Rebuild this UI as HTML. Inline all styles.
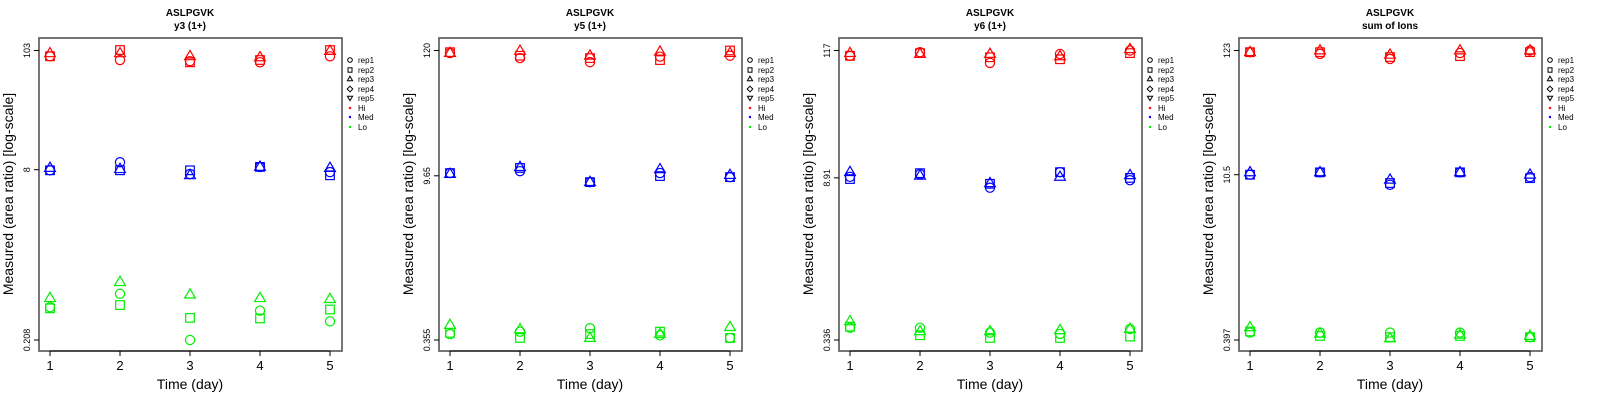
<!DOCTYPE html>
<html><head><meta charset="utf-8">
<style>
html,body{margin:0;padding:0;background:#fff;}
svg{display:block;font-family:"Liberation Sans",sans-serif;}
</style></head>
<body>
<svg id="chart" width="1600" height="400" viewBox="0 0 1600 400" xmlns="http://www.w3.org/2000/svg"></svg>
<script>
// ---- data ----
const days = [1, 2, 3, 4, 5];
const panelTitles = ["y3 (1+)", "y5 (1+)", "y6 (1+)", "sum of Ions"];
const peptide = "ASLPGVK";
const tickLabels = [["103", "8", "0.208"], ["120", "9.65", "0.355"], ["117", "8.91", "0.336"], ["123", "10.5", "0.397"]];
const tickValues = [[103, 8, 0.208], [120, 9.65, 0.355], [117, 8.91, 0.336], [123, 10.5, 0.397]];
const levels = ["Hi", "Med", "Lo"];
const reps = ["rep1", "rep2", "rep3"];
// values[panel][level][rep][day]
const p1Hi  = [[91, 84, 82, 80, 91], [91, 104, 80, 84, 104], [97, 97, 91, 89, 102]];
const p1Med = [[7.9, 9.4, 7.3, 8.5, 7.6], [7.9, 7.9, 7.9, 8.5, 7.1], [8.3, 8.1, 7.1, 8.5, 8.3]];
const p1Lo  = [[0.42, 0.56, 0.208, 0.39, 0.31], [0.41, 0.44, 0.334, 0.33, 0.40], [0.51, 0.72, 0.55, 0.51, 0.50]];
const p2Hi  = [[114, 103, 95, 106, 108], [116, 108, 103, 99, 120], [114, 119, 108, 117, 114]];
const p2Med = [[10.2, 10.6, 8.5, 10.2, 9.4], [10.2, 11.3, 8.5, 9.6, 9.4], [10.0, 11.5, 8.5, 11.0, 9.8]];
const p2Lo  = [[0.40, 0.42, 0.45, 0.39, 0.37], [0.41, 0.37, 0.40, 0.42, 0.37], [0.48, 0.44, 0.37, 0.40, 0.46]];
const p3Hi  = [[105, 113, 91, 109, 117], [105, 111, 102, 98, 111], [111, 109, 109, 104, 120]];
const p3Med = [[9.1, 9.6, 7.3, 10.0, 8.5], [8.7, 9.8, 7.9, 10.0, 8.9], [10.0, 9.3, 8.0, 9.1, 9.4]];
const p3Lo  = [[0.43, 0.43, 0.39, 0.38, 0.42], [0.44, 0.37, 0.35, 0.35, 0.36], [0.49, 0.40, 0.40, 0.41, 0.42]];
const p4Hi  = [[119, 115, 104, 117, 123], [119, 119, 108, 110, 119], [119, 123, 113, 123, 123]];
const p4Med = [[10.5, 11.0, 8.6, 11.0, 10.0], [10.5, 11.0, 8.9, 11.0, 9.8], [11.0, 11.0, 9.5, 11.0, 10.5]];
const p4Lo  = [[0.46, 0.46, 0.46, 0.46, 0.42], [0.47, 0.43, 0.42, 0.43, 0.42], [0.51, 0.45, 0.41, 0.44, 0.43]];
const panelData = [[p1Hi, p1Med, p1Lo], [p2Hi, p2Med, p2Lo], [p3Hi, p3Med, p3Lo], [p4Hi, p4Med, p4Lo]];
const legendLabels = ["rep1", "rep2", "rep3", "rep4", "rep5", "Hi", "Med", "Lo"];

// ---- layout ----
const NS = "http://www.w3.org/2000/svg";
const svg = document.getElementById("chart");
const colors = { Hi: "#ff0000", Med: "#0000ff", Lo: "#00ee00" };
const BOX = { l: 39, r: 342, t: 38, b: 351 };
const YT = 50.5, YB = 340;

function mk(tag, attrs, parent) {
  const e = document.createElementNS(NS, tag);
  for (const k in attrs) e.setAttribute(k, attrs[k]);
  (parent || svg).appendChild(e);
  return e;
}
function xScale(d, ox) { return ox + 50 + (d - 1) * 70; }
function yScaleFor(top, bot) {
  const lt = Math.log(top), lb = Math.log(bot);
  return v => YT + (lt - Math.log(v)) / (lt - lb) * (YB - YT);
}
function marker(shape, cx, cy, col, g) {
  let e;
  if (shape === 0) e = mk("circle", { cx: cx, cy: cy, r: 4.6, fill: "none", stroke: col, "stroke-width": 1.2 }, g);
  else if (shape === 1) e = mk("rect", { x: cx - 4.3, y: cy - 4.3, width: 8.6, height: 8.6, fill: "none", stroke: col, "stroke-width": 1.2 }, g);
  else e = mk("polygon", { points: `${cx},${cy - 5.8} ${cx + 5.4},${cy + 3.4} ${cx - 5.4},${cy + 3.4}`, fill: "none", stroke: col, "stroke-width": 1.2 }, g);
  return e;
}

panelData.forEach((pd, pi) => {
  const ox = pi * 400;
  const g = mk("g", {});
  
  
  const tv = tickValues[pi];
  const y = yScaleFor(tv[0], tv[2]);

  const t1 = mk("text", { x: ox + 190, y: 16, "text-anchor": "middle", "font-size": 10, "font-weight": "bold" }, g);
  t1.textContent = peptide;
  
  
  const t2 = mk("text", { x: ox + 190, y: 29, "text-anchor": "middle", "font-size": 10, "font-weight": "bold" }, g);
  t2.textContent = panelTitles[pi];
  
  

  const box = mk("rect", { x: ox + BOX.l, y: BOX.t, width: BOX.r - BOX.l, height: BOX.b - BOX.t, fill: "none", stroke: "#555", "stroke-width": 1.6 }, g);
  
  

  // y ticks
  tv.forEach((v, k) => {
    const yy = y(v);
    mk("line", { x1: ox + BOX.l - 5, x2: ox + BOX.l, y1: yy, y2: yy, stroke: "#000", "stroke-width": 1 }, g);
    const lb = mk("text", { x: ox + 30, y: yy, "text-anchor": "middle", "font-size": 9, transform: `rotate(-90 ${ox + 30} ${yy})` }, g);
    lb.textContent = tickLabels[pi][k];
    
    
  });
  // x ticks
  mk("line", { x1: xScale(1, ox), x2: xScale(5, ox), y1: BOX.b, y2: BOX.b, stroke: "#000", "stroke-width": 1 }, g);
  days.forEach(d => {
    const xx = xScale(d, ox);
    mk("line", { x1: xx, x2: xx, y1: BOX.b, y2: BOX.b + 5, stroke: "#000", "stroke-width": 1 }, g);
    const lb = mk("text", { x: xx, y: 370, "text-anchor": "middle", "font-size": 13 }, g);
    lb.textContent = d;
    
    
  });
  const xt = mk("text", { x: ox + 190, y: 389, "text-anchor": "middle", "font-size": 14 }, g);
  xt.textContent = "Time (day)";
  
  
  const yt = mk("text", { x: ox + 13, y: 194, "text-anchor": "middle", "font-size": 14, transform: `rotate(-90 ${ox + 13} 194)` }, g);
  yt.textContent = "Measured (area ratio) [log-scale]";
  
  

  // points
  pd.forEach((lv, li) => {
    lv.forEach((series, ri) => {
      series.forEach((v, di) => {
        const m = marker(ri, xScale(days[di], ox), y(v), colors[levels[li]], g);
        
        
      });
    });
  });

  // legend
  const lg = mk("g", {}, g);
  
  
  const rowsY = [60, 70, 79, 89, 98, 108, 117, 127];
  legendLabels.forEach((lab, k) => {
    const cx = ox + 350, cy = rowsY[k];
    let s;
    if (k === 0) s = mk("circle", { cx: cx, cy: cy, r: 2.3, fill: "none", stroke: "#000", "stroke-width": 1 }, lg);
    else if (k === 1) s = mk("rect", { x: cx - 2, y: cy - 2.2, width: 4, height: 4.4, fill: "none", stroke: "#000", "stroke-width": 1 }, lg);
    else if (k === 2) s = mk("polygon", { points: `${cx},${cy - 2.8} ${cx + 2.6},${cy + 1.8} ${cx - 2.6},${cy + 1.8}`, fill: "none", stroke: "#000", "stroke-width": 1 }, lg);
    else if (k === 3) s = mk("polygon", { points: `${cx},${cy - 2.8} ${cx + 2.8},${cy} ${cx},${cy + 2.8} ${cx - 2.8},${cy}`, fill: "none", stroke: "#000", "stroke-width": 1 }, lg);
    else if (k === 4) s = mk("polygon", { points: `${cx},${cy + 2.6} ${cx + 2.6},${cy - 1.8} ${cx - 2.6},${cy - 1.8}`, fill: "none", stroke: "#000", "stroke-width": 1 }, lg);
    else s = mk("circle", { cx: cx, cy: cy, r: 1.2, fill: colors[lab] }, lg);
    
    
    const tx = mk("text", { x: ox + 358, y: cy + 3, "font-size": 8 }, lg);
    tx.textContent = lab;
    
    
  });
});
</script>
</body></html>
